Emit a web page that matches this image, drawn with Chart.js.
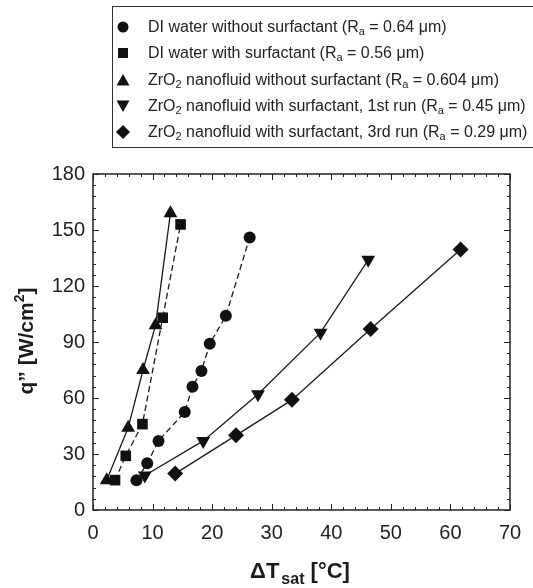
<!DOCTYPE html>
<html><head><meta charset="utf-8">
<script src="https://cdn.jsdelivr.net/npm/chart.js@4"></script>
<style>
html,body{margin:0;padding:0;background:#fff;}
#wrap{position:relative;width:533px;height:588px;overflow:hidden;}
#c{position:absolute;left:0;top:0;}
#legend{position:absolute;left:112px;top:6px;width:430px;height:140px;border-top:1.5px solid #333;border-bottom:1.5px solid #333;border-left:1.5px solid #333;font-family:"Liberation Sans",Arial,sans-serif;font-size:16px;color:#222;}
.row{position:absolute;left:0;height:20px;white-space:nowrap;}
.row svg{position:absolute;left:3px;top:3px;}
.row span{position:absolute;left:35px;top:0;line-height:20px;}
sub{font-size:11px;vertical-align:-3px;line-height:0;}
</style></head>
<body><div id="wrap"><canvas id="c" width="533" height="588"></canvas><div id="legend"></div></div>
<script>
// ---- data ----
const seriesNames = [
  'DI water without surfactant (R<sub>a</sub> = 0.64 μm)',
  'DI water with surfactant (R<sub>a</sub> = 0.56 μm)',
  'ZrO<sub>2</sub> nanofluid without surfactant (R<sub>a</sub> = 0.604 μm)',
  'ZrO<sub>2</sub> nanofluid with surfactant, 1st run (R<sub>a</sub> = 0.45 μm)',
  'ZrO<sub>2</sub> nanofluid with surfactant, 3rd run (R<sub>a</sub> = 0.29 μm)'
];
const diWithoutX = [7.3, 9.1, 11.0, 15.4, 16.7, 18.2, 19.6, 22.3, 26.3];
const diWithoutY = [16, 25, 37, 52.5, 66, 74.5, 89, 104, 146];
const diWithX = [3.7, 5.5, 8.3, 11.7, 14.7];
const diWithY = [16, 29, 46, 103, 153];
const zrWithoutX = [2.3, 5.9, 8.4, 10.5, 13.0];
const zrWithoutY = [16, 44, 75, 99, 159];
const zrRun1X = [8.7, 18.5, 27.7, 38.2, 46.2];
const zrRun1Y = [18.5, 37, 62, 95, 134];
const zrRun3X = [13.8, 24.0, 33.4, 46.6, 61.7];
const zrRun3Y = [19.5, 40, 59, 97, 139.5];
const xTicks = [0, 10, 20, 30, 40, 50, 60, 70];
const yTicks = [0, 30, 60, 90, 120, 150, 180];
const xTitleParts = ['ΔT', 'sat', ' [°C]'];
const yTitleParts = ['q” [W/cm', '2', ']'];

const pts = (xs, ys) => xs.map((x, i) => ({x, y: ys[i]}));
const INK = '#1a1a1a';
const styles = [
  {shape:'circle', r:6, rot:0, dash:[6,3.5]},
  {shape:'rect', r:7.5, rot:0, dash:[6,3.5]},
  {shape:'triangle', r:8, rot:0, dash:[]},
  {shape:'triangle', r:8, rot:180, dash:[]},
  {shape:'rectRot', r:8, rot:0, dash:[]}
];
const seriesData = [
  pts(diWithoutX, diWithoutY), pts(diWithX, diWithY), pts(zrWithoutX, zrWithoutY),
  pts(zrRun1X, zrRun1Y), pts(zrRun3X, zrRun3Y)
];

// ---- legend (HTML) ----
const legendEl = document.getElementById('legend');
const svgs = [
  '<circle cx="7" cy="7" r="5.5" fill="#111"/>',
  '<rect x="2" y="2" width="10" height="10" fill="#111"/>',
  '<polygon points="7,1 13.5,12.5 0.5,12.5" fill="#111"/>',
  '<polygon points="0.5,1.5 13.5,1.5 7,13" fill="#111"/>',
  '<polygon points="7,0 14,7 7,14 0,7" fill="#111"/>'
];
seriesNames.forEach((n, i) => {
  const d = document.createElement('div');
  d.className = 'row';
  d.style.top = (10 + i * 26.3) + 'px';
  d.innerHTML = '<svg width="14" height="14" viewBox="0 0 14 14">' + svgs[i] + '</svg><span>' + n + '</span>';
  legendEl.appendChild(d);
});

// ---- plugins ----
const framePlugin = {
  id: 'frame',
  afterDatasetsDraw(chart) {
    const {ctx, chartArea: a, scales: {x, y}} = chart;
    ctx.save();
    ctx.strokeStyle = '#222';
    ctx.lineWidth = 1.5;
    ctx.strokeRect(a.left, a.top, a.right - a.left, a.bottom - a.top);
    ctx.lineWidth = 1;
    ctx.beginPath();
    for (let v = 0; v <= 70; v += 2) {
      const px = Math.round(x.getPixelForValue(v)) + 0.5;
      const L = v % 10 === 0 ? 6 : 3;
      ctx.moveTo(px, a.bottom); ctx.lineTo(px, a.bottom - L);
      ctx.moveTo(px, a.top); ctx.lineTo(px, a.top + L);
    }
    for (let v = 0; v <= 180; v += 6) {
      const py = Math.round(y.getPixelForValue(v)) + 0.5;
      const L = v % 30 === 0 ? 6 : 3;
      ctx.moveTo(a.left, py); ctx.lineTo(a.left + L, py);
      ctx.moveTo(a.right, py); ctx.lineTo(a.right - L, py);
    }
    ctx.stroke();
    ctx.restore();
  },
  afterDraw(chart) {
    const ctx = chart.ctx;
    ctx.save();
    ctx.fillStyle = '#1a1a1a';
    const fam = '"Liberation Sans", Arial, sans-serif';
    ctx.textBaseline = 'alphabetic';
    ctx.textAlign = 'left';
    // x title
    const fontsX = ['bold 22px ' + fam, 'bold 16px ' + fam, 'bold 22px ' + fam];
    const offX = [0, 6, 0];
    const gapX = [0, 2, 0];
    let w = 0;
    const widthsX = xTitleParts.map((t, i) => { ctx.font = fontsX[i]; const m = ctx.measureText(t).width + gapX[i]; w += m; return m; });
    let cx = 300 - w / 2;
    xTitleParts.forEach((t, i) => { ctx.font = fontsX[i]; ctx.fillText(t, cx + gapX[i], 578 + offX[i]); cx += widthsX[i]; });
    // y title
    ctx.translate(33, 341);
    ctx.rotate(-Math.PI / 2);
    const fontsY = ['bold 21px ' + fam, 'bold 14px ' + fam, 'bold 21px ' + fam];
    const offY = [0, -9, 0];
    w = 0;
    const widthsY = yTitleParts.map((t, i) => { ctx.font = fontsY[i]; const m = ctx.measureText(t).width; w += m; return m; });
    cx = -w / 2;
    yTitleParts.forEach((t, i) => { ctx.font = fontsY[i]; ctx.fillText(t, cx, offY[i]); cx += widthsY[i]; });
    ctx.restore();
  }
};

const tickFont = {family: '"Liberation Sans", Arial, sans-serif', size: 20};
new Chart(document.getElementById('c'), {
  type: 'line',
  data: {
    datasets: seriesData.map((d, i) => ({
      data: d,
      borderColor: INK,
      backgroundColor: '#111',
      borderWidth: 1.3,
      borderDash: styles[i].dash,
      pointStyle: styles[i].shape,
      pointRadius: styles[i].r,
      pointHoverRadius: styles[i].r,
      pointRotation: styles[i].rot,
      pointBackgroundColor: '#111',
      pointBorderColor: '#111',
      pointBorderWidth: 0,
      tension: 0,
      fill: false
    }))
  },
  options: {
    responsive: false,
    animation: false,
    events: [],
    layout: {padding: {top: 174, right: 23, left: 0, bottom: 0}},
    plugins: {legend: {display: false}, tooltip: {enabled: false}},
    scales: {
      x: {
        type: 'linear', min: 0, max: 70,
        afterFit: s => { s.height = 78; },
        afterBuildTicks: s => { s.ticks = xTicks.map(v => ({value: v})); },
        grid: {display: false, drawTicks: false},
        border: {display: false},
        ticks: {font: tickFont, color: '#222', padding: 11, maxRotation: 0, autoSkip: false}
      },
      y: {
        type: 'linear', min: 0, max: 180,
        afterFit: s => { s.width = 93; },
        afterBuildTicks: s => { s.ticks = yTicks.map(v => ({value: v})); },
        grid: {display: false, drawTicks: false},
        border: {display: false},
        ticks: {font: tickFont, color: '#222', padding: 8, autoSkip: false}
      }
    }
  },
  plugins: [framePlugin]
});
</script>
</body></html>
